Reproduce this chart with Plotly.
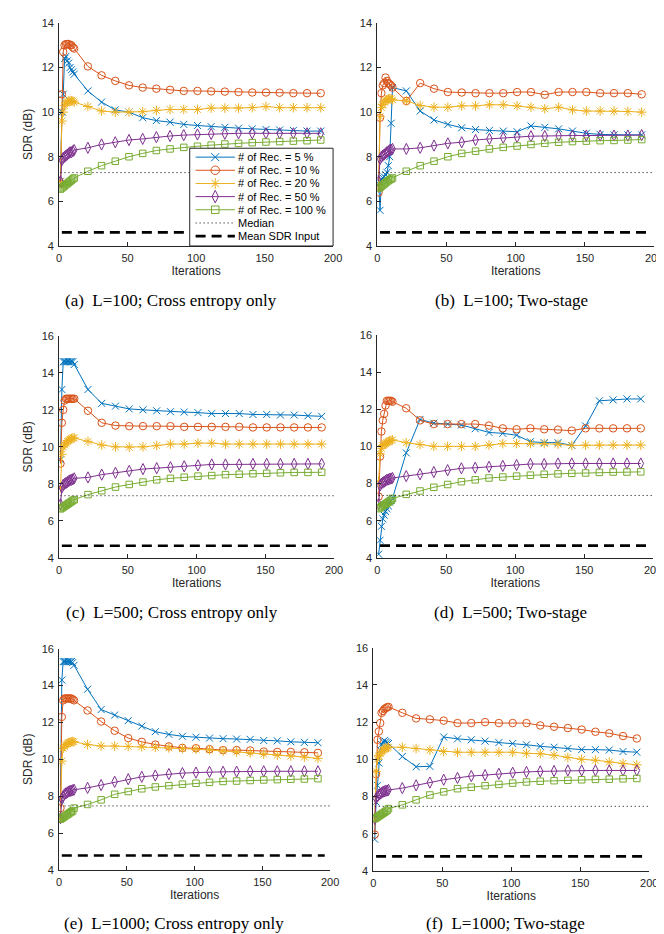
import plotly.graph_objects as go

# ---------------- data ----------------
ITERATIONS = [1, 2, 3, 4, 5, 6, 7, 8, 9, 10, 11, 21, 31, 41, 51, 61, 71, 81, 91,
              101, 111, 121, 131, 141, 151, 161, 171, 181, 191]

SERIES_NAMES = ["# of Rec. = 5 %", "# of Rec. = 10 %", "# of Rec. = 20 %",
                "# of Rec. = 50 %", "# of Rec. = 100 %"]
REF_NAMES = ["Median", "Mean SDR Input"]

CAPTIONS = ["(a)  L=100; Cross entropy only", "(b)  L=100; Two-stage",
            "(c)  L=500; Cross entropy only", "(d)  L=500; Two-stage",
            "(e)  L=1000; Cross entropy only", "(f)  L=1000; Two-stage"]

X_TICKS = [0, 50, 100, 150, 200]
Y_TICKS_SHORT = [4, 6, 8, 10, 12, 14]
Y_TICKS_TALL = [4, 6, 8, 10, 12, 14, 16]

# (a) L=100; Cross entropy only
a_rec5 = [6.9, 10.0, 10.8, 12.4, 12.5, 12.3, 12.2, 12.0, 11.9, 11.8, 11.7,
          10.95, 10.45, 10.1, 10.0, 9.75, 9.62, 9.55, 9.45, 9.4, 9.35, 9.32, 9.28, 9.25, 9.22, 9.2, 9.18, 9.15, 9.15]
a_rec10 = [6.8, 10.8, 12.7, 13.0, 13.05, 13.05, 13.05, 13.0, 13.0, 12.9, 12.85,
           12.05, 11.65, 11.4, 11.2, 11.1, 11.05, 11.0, 10.95, 10.95, 10.93, 10.92, 10.9, 10.88, 10.88, 10.87, 10.85, 10.85, 10.85]
a_rec20 = [6.9, 9.6, 10.0, 10.3, 10.4, 10.45, 10.5, 10.5, 10.5, 10.5, 10.45,
           10.25, 10.05, 10.0, 10.0, 10.02, 10.08, 10.12, 10.12, 10.12, 10.18, 10.18, 10.18, 10.2, 10.25, 10.2, 10.2, 10.2, 10.2]
a_rec50 = [6.9, 7.85, 7.95, 8.0, 8.05, 8.1, 8.15, 8.2, 8.2, 8.25, 8.3,
           8.4, 8.55, 8.65, 8.75, 8.8, 8.88, 8.93, 8.97, 9.0, 9.02, 9.03, 9.05, 9.05, 9.05, 9.05, 9.05, 9.05, 9.05]
a_rec100 = [6.55, 6.6, 6.65, 6.7, 6.75, 6.8, 6.85, 6.9, 6.95, 7.0, 7.05,
            7.35, 7.6, 7.8, 8.0, 8.15, 8.28, 8.35, 8.42, 8.47, 8.52, 8.57, 8.6, 8.63, 8.66, 8.68, 8.7, 8.72, 8.75]

# (b) L=100; Two-stage
b_rec5 = [6.9, 5.6, 7.0, 7.05, 7.1, 7.2, 7.3, 7.6, 8.0, 9.5, 11.1,
          10.95, 10.05, 9.65, 9.45, 9.3, 9.22, 9.18, 9.15, 9.12, 9.38, 9.32, 9.25, 9.15, 9.05, 9.0, 8.98, 8.98, 8.98]
b_rec10 = [6.4, 9.75, 10.85, 11.2, 11.3, 11.55, 11.4, 11.3, 11.25, 11.2, 11.1,
           10.5, 11.3, 11.05, 10.9, 10.88, 10.85, 10.85, 10.85, 10.9, 10.9, 10.78, 10.9, 10.9, 10.9, 10.85, 10.85, 10.85, 10.8]
b_rec20 = [6.7, 9.8, 10.2, 10.35, 10.45, 10.5, 10.55, 10.6, 10.6, 10.6, 10.55,
           10.5, 10.3, 10.22, 10.22, 10.28, 10.28, 10.33, 10.33, 10.28, 10.22, 10.15, 10.22, 10.1, 10.05, 10.05, 10.05, 10.03, 10.0]
b_rec50 = [6.9, 7.9, 8.0, 8.05, 8.1, 8.15, 8.2, 8.25, 8.3, 8.32, 8.35,
           8.35, 8.4, 8.5, 8.6, 8.65, 8.75, 8.8, 8.85, 8.88, 8.92, 8.93, 8.95, 8.95, 8.95, 8.95, 8.95, 8.95, 8.97]
b_rec100 = [6.6, 6.62, 6.68, 6.73, 6.78, 6.83, 6.88, 6.93, 6.97, 7.0, 7.05,
            7.35, 7.6, 7.8, 8.0, 8.15, 8.25, 8.35, 8.42, 8.48, 8.55, 8.6, 8.65, 8.68, 8.7, 8.72, 8.73, 8.75, 8.77]

# (c) L=500; Cross entropy only
c_rec5 = [9.3, 13.1, 14.6, 14.6, 14.6, 14.6, 14.6, 14.6, 14.6, 14.6, 14.45,
          13.1, 12.35, 12.2, 12.05, 12.0, 11.95, 11.9, 11.88, 11.85, 11.8, 11.8, 11.8, 11.75, 11.75, 11.72, 11.72, 11.68, 11.65]
c_rec10 = [9.1, 11.3, 12.0, 12.5, 12.6, 12.6, 12.6, 12.6, 12.6, 12.6, 12.6,
           11.95, 11.3, 11.15, 11.12, 11.12, 11.12, 11.12, 11.08, 11.08, 11.08, 11.08, 11.08, 11.05, 11.05, 11.05, 11.05, 11.05, 11.05]
c_rec20 = [7.8, 9.6, 10.0, 10.1, 10.2, 10.3, 10.35, 10.4, 10.45, 10.48, 10.48,
           10.3, 10.1, 10.0, 9.98, 10.0, 10.07, 10.15, 10.15, 10.2, 10.2, 10.15, 10.15, 10.15, 10.15, 10.15, 10.15, 10.15, 10.15]
c_rec50 = [6.9, 7.8, 7.95, 8.0, 8.05, 8.1, 8.15, 8.2, 8.22, 8.25, 8.3,
           8.35, 8.5, 8.6, 8.7, 8.8, 8.85, 8.9, 8.95, 9.0, 9.05, 9.05, 9.05, 9.08, 9.08, 9.08, 9.08, 9.08, 9.08]
c_rec100 = [6.65, 6.7, 6.75, 6.8, 6.85, 6.9, 6.95, 7.0, 7.05, 7.1, 7.15,
            7.42, 7.63, 7.83, 7.97, 8.1, 8.22, 8.3, 8.36, 8.42, 8.45, 8.5, 8.52, 8.55, 8.57, 8.6, 8.62, 8.62, 8.63]

# (d) L=500; Two-stage
d_rec5 = [4.2, 4.95, 5.7, 6.1, 6.3, 6.5, 6.65, 6.8, 7.0, 7.1, 7.2,
          9.65, 11.45, 11.25, 11.2, 11.15, 10.95, 10.75, 10.7, 10.6, 10.25, 10.2, 10.2, 10.05, 11.1, 12.45, 12.5, 12.55, 12.55]
d_rec10 = [7.3, 9.45, 10.8, 11.4, 11.75, 12.2, 12.45, 12.45, 12.45, 12.45, 12.4,
           12.05, 11.4, 11.2, 11.2, 11.2, 11.2, 11.12, 10.97, 10.92, 10.97, 10.92, 10.9, 10.85, 10.97, 10.97, 10.97, 10.97, 10.97]
d_rec20 = [8.1, 9.6, 9.9, 10.05, 10.1, 10.15, 10.2, 10.25, 10.3, 10.32, 10.35,
           10.2, 10.1, 10.0, 10.0, 10.0, 10.0, 10.07, 10.15, 10.15, 10.15, 10.15, 10.12, 10.05, 10.07, 10.07, 10.07, 10.07, 10.07]
d_rec50 = [6.9, 7.9, 8.0, 8.05, 8.1, 8.15, 8.2, 8.22, 8.25, 8.27, 8.3,
           8.4, 8.5, 8.62, 8.72, 8.82, 8.85, 8.9, 8.95, 9.0, 9.05, 9.05, 9.08, 9.08, 9.08, 9.08, 9.08, 9.08, 9.08]
d_rec100 = [6.65, 6.7, 6.75, 6.8, 6.85, 6.9, 6.95, 7.0, 7.05, 7.1, 7.2,
            7.42, 7.6, 7.8, 7.95, 8.1, 8.2, 8.3, 8.35, 8.4, 8.45, 8.5, 8.52, 8.55, 8.57, 8.6, 8.62, 8.62, 8.63]

# (e) L=1000; Cross entropy only
e_rec5 = [7.8, 14.3, 15.3, 15.3, 15.3, 15.3, 15.3, 15.3, 15.3, 15.25, 15.1,
          13.8, 12.7, 12.4, 12.1, 11.8, 11.5, 11.35, 11.25, 11.2, 11.15, 11.12, 11.1, 11.08, 11.02, 11.0, 10.95, 10.92, 10.9]
e_rec10 = [7.35, 12.3, 13.2, 13.3, 13.3, 13.3, 13.3, 13.3, 13.3, 13.25, 13.2,
           12.65, 12.05, 11.55, 11.15, 10.95, 10.8, 10.7, 10.62, 10.6, 10.55, 10.5, 10.5, 10.48, 10.42, 10.4, 10.4, 10.38, 10.35]
e_rec20 = [6.8, 9.9, 10.6, 10.7, 10.8, 10.85, 10.9, 10.92, 10.95, 10.97, 10.95,
           10.8, 10.72, 10.72, 10.7, 10.68, 10.65, 10.62, 10.58, 10.55, 10.52, 10.45, 10.4, 10.35, 10.28, 10.22, 10.18, 10.12, 10.05]
e_rec50 = [6.8, 7.85, 8.0, 8.1, 8.15, 8.2, 8.25, 8.28, 8.3, 8.32, 8.35,
           8.45, 8.6, 8.78, 8.92, 9.05, 9.12, 9.2, 9.25, 9.28, 9.32, 9.32, 9.33, 9.35, 9.35, 9.35, 9.35, 9.35, 9.35]
e_rec100 = [6.75, 6.8, 6.85, 6.9, 6.95, 7.0, 7.05, 7.1, 7.15, 7.2, 7.35,
            7.55, 7.8, 8.1, 8.25, 8.4, 8.5, 8.57, 8.65, 8.7, 8.75, 8.8, 8.82, 8.85, 8.88, 8.9, 8.92, 8.93, 8.95]

# (f) L=1000; Two-stage
f_rec5 = [5.7, 7.7, 8.6, 9.8, 10.5, 10.8, 10.95, 11.0, 10.95, 10.9, 10.85,
          10.15, 9.6, 9.62, 11.2, 11.1, 11.05, 10.98, 10.9, 10.85, 10.78, 10.7, 10.65, 10.58, 10.52, 10.52, 10.5, 10.42, 10.38]
f_rec10 = [5.95, 9.2, 11.05, 11.5, 11.95, 12.5, 12.6, 12.7, 12.75, 12.8, 12.82,
           12.5, 12.2, 12.15, 12.08, 11.95, 11.95, 12.0, 11.95, 11.95, 11.95, 11.82, 11.75, 11.68, 11.6, 11.48, 11.4, 11.25, 11.12]
f_rec20 = [6.8, 9.35, 10.0, 10.2, 10.3, 10.4, 10.5, 10.55, 10.6, 10.62, 10.65,
           10.65, 10.58, 10.5, 10.42, 10.38, 10.38, 10.38, 10.38, 10.38, 10.32, 10.3, 10.22, 10.1, 10.0, 9.95, 9.85, 9.78, 9.7]
f_rec50 = [6.8, 7.9, 8.0, 8.1, 8.15, 8.2, 8.25, 8.28, 8.3, 8.32, 8.35,
           8.45, 8.6, 8.75, 8.9, 9.0, 9.1, 9.15, 9.22, 9.28, 9.32, 9.35, 9.37, 9.4, 9.4, 9.4, 9.4, 9.4, 9.4]
f_rec100 = [6.8, 6.85, 6.9, 6.95, 7.0, 7.05, 7.1, 7.15, 7.2, 7.25, 7.35,
            7.55, 7.82, 8.08, 8.25, 8.42, 8.5, 8.58, 8.65, 8.72, 8.78, 8.82, 8.85, 8.87, 8.9, 8.92, 8.93, 8.95, 8.97]

MEDIAN_SDR = [7.29, 7.29, 7.36, 7.36, 7.47, 7.47]
MEAN_SDR_INPUT = [4.61, 4.61, 4.66, 4.66, 4.78, 4.78]
MEDIAN_SPAN = [1, 200]
MEAN_SPAN = [2, 196]

PANEL_SERIES = [
    [a_rec5, a_rec10, a_rec20, a_rec50, a_rec100],
    [b_rec5, b_rec10, b_rec20, b_rec50, b_rec100],
    [c_rec5, c_rec10, c_rec20, c_rec50, c_rec100],
    [d_rec5, d_rec10, d_rec20, d_rec50, d_rec100],
    [e_rec5, e_rec10, e_rec20, e_rec50, e_rec100],
    [f_rec5, f_rec10, f_rec20, f_rec50, f_rec100],
]

# ---------------- style ----------------
W, H = 664, 934
COLORS = ["#0072BD", "#D95319", "#EDB120", "#7E2F8E", "#77AC30"]
SYMBOLS = ["x-thin", "circle-open", "asterisk-open", "diamond-tall-open", "square-open"]
SIZES = [7, 7.5, 8, 8, 6.5]
AX_COLOR = "#262626"
SANS = "Liberation Sans, Arial, Helvetica, sans-serif"
SERIF = "Liberation Serif, Times New Roman, serif"
MEAN_DASH = "10px,6px"
MEDIAN_DASH = "1px,3px"

# panel boxes in pixels: (left, right, top, bottom)
PANEL_PX = [(49, 328, 9, 235), (373, 655, 9, 235),
            (49, 329, 326, 551), (373, 654, 325, 551),
            (49, 325, 643, 867), (369, 650, 642, 868)]
Y_RANGES = [[4, 14], [4, 14], [4, 16], [4, 16], [4, 16], [4, 16]]
Y_TICKS = [Y_TICKS_SHORT, Y_TICKS_SHORT, Y_TICKS_TALL, Y_TICKS_TALL, Y_TICKS_TALL, Y_TICKS_TALL]
CAPTION_POS = [(163, 290), (510, 290), (164, 606), (509, 606), (166, 921), (504, 921)]

fig = go.Figure()
layout = dict(width=W, height=H, margin=dict(l=0, r=0, t=0, b=0),
              paper_bgcolor="white", plot_bgcolor="rgba(0,0,0,0)",
              showlegend=False, font=dict(family=SANS, color=AX_COLOR))
annotations = []

for p in range(6):
    sfx = "" if p == 0 else str(p + 1)
    xa, ya = "x" + sfx, "y" + sfx
    for s in range(5):
        fig.add_trace(go.Scatter(
            x=ITERATIONS, y=PANEL_SERIES[p][s], xaxis=xa, yaxis=ya, mode="lines+markers",
            name=SERIES_NAMES[s],
            line=dict(color=COLORS[s], width=1),
            marker=dict(symbol=SYMBOLS[s], size=SIZES[s], color=COLORS[s],
                        line=dict(color=COLORS[s], width=1)),
        ))
    fig.add_trace(go.Scatter(x=MEDIAN_SPAN, y=[MEDIAN_SDR[p]] * 2, xaxis=xa, yaxis=ya,
                             mode="lines", name=REF_NAMES[0],
                             line=dict(color="black", width=1, dash=MEDIAN_DASH)))
    fig.add_trace(go.Scatter(x=MEAN_SPAN, y=[MEAN_SDR_INPUT[p]] * 2, xaxis=xa, yaxis=ya,
                             mode="lines", name=REF_NAMES[1],
                             line=dict(color="black", width=2.6, dash=MEAN_DASH)))

    l, r, t, b = PANEL_PX[p]
    axis_common = dict(showline=True, linecolor=AX_COLOR, linewidth=1, ticks="inside",
                       ticklen=4, tickcolor=AX_COLOR, tickwidth=1, showgrid=False,
                       zeroline=False, tickfont=dict(family=SANS, size=11, color=AX_COLOR))
    layout["xaxis" + sfx] = dict(axis_common, domain=[l / W, r / W], range=[0, 200],
                                 tickvals=X_TICKS, anchor=ya, ticklabelstandoff=2,
                                 title=dict(text="Iterations", standoff=2,
                                            font=dict(family=SANS, size=12, color=AX_COLOR)))
    ytitle = "SDR (dB)" if p % 2 == 0 else ""
    layout["yaxis" + sfx] = dict(axis_common, domain=[1 - b / H, 1 - t / H], range=Y_RANGES[p],
                                 tickvals=Y_TICKS[p], anchor=xa, ticklabelstandoff=2,
                                 title=dict(text=ytitle, standoff=6,
                                            font=dict(family=SANS, size=12, color=AX_COLOR)))
    cx, cy = CAPTION_POS[p]
    annotations.append(dict(text=CAPTIONS[p], x=cx / W, y=1 - cy / H, xref="paper", yref="paper",
                            showarrow=False, xanchor="center", yanchor="middle",
                            font=dict(family=SERIF, size=17, color="black")))

# ---------------- legend (panel a), drawn on an overlay axis in pixel units ----------------
LEG_W, LEG_H = 146, 99
LEG_LEFT, LEG_TOP = 182, 136
ROW_Y = [9, 22.3, 35.7, 49, 62.3, 75.7, 89]
SAMPLE_X = [6, 46]
MARK_X = 26
TEXT_X = 47
layout["xaxis7"] = dict(domain=[(LEG_LEFT - 2) / W, (LEG_LEFT + LEG_W + 2) / W],
                        range=[-2, LEG_W + 2], visible=False, anchor="y7", fixedrange=True)
layout["yaxis7"] = dict(domain=[1 - (LEG_TOP + LEG_H + 2) / H, 1 - (LEG_TOP - 2) / H],
                        range=[LEG_H + 2, -2], visible=False, anchor="x7", fixedrange=True)
fig.add_trace(go.Scatter(x=[0, LEG_W, LEG_W, 0, 0], y=[0, 0, LEG_H, LEG_H, 0],
                         xaxis="x7", yaxis="y7", mode="lines", fill="toself",
                         fillcolor="white", line=dict(color=AX_COLOR, width=1),
                         hoverinfo="skip"))
for s in range(5):
    fig.add_trace(go.Scatter(x=SAMPLE_X, y=[ROW_Y[s]] * 2, xaxis="x7", yaxis="y7", mode="lines",
                             line=dict(color=COLORS[s], width=1), hoverinfo="skip"))
    fig.add_trace(go.Scatter(x=[MARK_X], y=[ROW_Y[s]], xaxis="x7", yaxis="y7", mode="markers",
                             marker=dict(symbol=SYMBOLS[s], size=SIZES[s] + 1, color=COLORS[s],
                                         line=dict(color=COLORS[s], width=1)),
                             hoverinfo="skip"))
fig.add_trace(go.Scatter(x=SAMPLE_X, y=[ROW_Y[5]] * 2, xaxis="x7", yaxis="y7", mode="lines",
                         line=dict(color="black", width=1, dash=MEDIAN_DASH), hoverinfo="skip"))
fig.add_trace(go.Scatter(x=SAMPLE_X, y=[ROW_Y[6]] * 2, xaxis="x7", yaxis="y7", mode="lines",
                         line=dict(color="black", width=2.6, dash=MEAN_DASH), hoverinfo="skip"))
for i, label in enumerate(SERIES_NAMES + REF_NAMES):
    annotations.append(dict(text=label, x=TEXT_X, y=ROW_Y[i], xref="x7", yref="y7",
                            showarrow=False, xanchor="left", yanchor="middle",
                            font=dict(family=SANS, size=11, color="black")))

layout["annotations"] = annotations
fig.update_layout(**layout)
fig.write_html("out.html")
